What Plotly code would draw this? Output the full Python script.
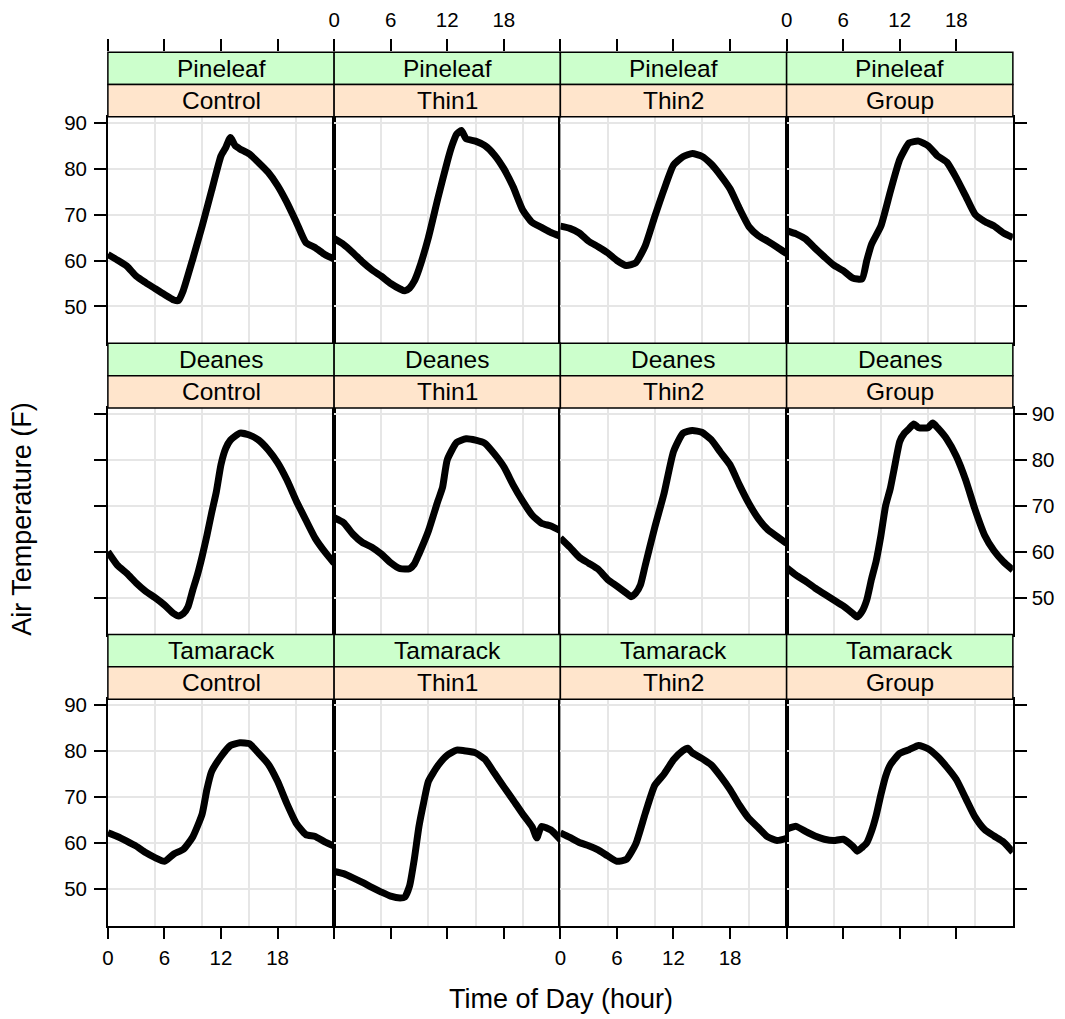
import plotly.graph_objects as go

# ---------------- data ----------------
SITES = ["Pineleaf", "Deanes", "Tamarack"]
TREATMENTS = ["Control", "Thin1", "Thin2", "Group"]
X_TICKS = [0, 6, 12, 18]
Y_TICKS = [50, 60, 70, 80, 90]
X_GRID = [5, 10, 15, 20]

PL_CONTROL_H = [0, 1, 2, 3, 4, 5, 6, 7, 7.5, 8, 9, 10, 11, 12, 12.5, 13, 13.5, 14, 15, 16, 17, 18, 19, 20, 21, 22, 23, 24]
PL_CONTROL_T = [61.3, 60.1, 58.8, 56.6, 55.2, 53.9, 52.6, 51.4, 51.3, 53.5, 60.3, 67.5, 75.2, 82.8, 84.6, 86.8, 85.0, 84.3, 83.2, 81.3, 79.2, 76.3, 72.6, 68.3, 63.9, 62.8, 61.3, 60.3]

PL_THIN1_H = [0, 1, 2, 3, 4, 5, 6, 7, 7.5, 8, 8.5, 9, 10, 11, 12, 12.5, 13, 13.5, 14, 15, 16, 17, 18, 19, 20, 21, 22, 23, 24]
PL_THIN1_T = [64.8, 63.5, 61.7, 59.7, 58.0, 56.6, 55.0, 53.8, 53.4, 54.0, 55.5, 58.1, 65.0, 73.5, 81.5, 85.0, 87.5, 88.3, 86.5, 86.0, 85.0, 83.0, 80.0, 76.0, 71.0, 68.3, 67.2, 66.1, 65.3]

PL_THIN2_H = [0, 1, 2, 3, 4, 5, 6, 7, 8, 9, 10, 11, 12, 13, 14, 15, 16, 17, 18, 19, 20, 21, 22, 23, 24]
PL_THIN2_T = [67.5, 67.0, 66.0, 64.2, 63.0, 61.7, 60.0, 58.9, 59.5, 63.2, 69.5, 75.5, 80.8, 82.6, 83.3, 82.7, 81.0, 78.5, 75.6, 71.3, 67.4, 65.4, 64.2, 62.9, 61.5]

PL_GROUP_H = [0, 1, 2, 3, 4, 5, 6, 7, 8, 8.5, 9, 10, 11, 12, 13, 14, 15, 16, 17, 18, 19, 20, 21, 22, 23, 24]
PL_GROUP_T = [66.5, 65.8, 64.7, 62.7, 60.8, 59.0, 57.8, 56.2, 56.0, 60.0, 63.5, 67.5, 75.0, 82.0, 85.6, 86.0, 85.0, 82.8, 81.4, 78.0, 74.0, 70.0, 68.5, 67.5, 66.0, 65.0]

DE_CONTROL_H = [0, 1, 2, 3, 4, 5, 6, 7, 7.5, 8, 8.5, 9, 9.5, 10, 10.5, 11, 11.5, 12, 12.5, 13, 14, 15, 16, 17, 18, 19, 20, 21, 22, 23, 24]
DE_CONTROL_T = [60.0, 57.1, 55.3, 53.2, 51.4, 50.0, 48.4, 46.5, 46.0, 46.5, 48.0, 51.6, 55.0, 59.0, 63.5, 68.4, 73.0, 79.0, 82.5, 84.3, 85.8, 85.4, 84.3, 82.2, 79.4, 75.6, 71.0, 66.9, 62.9, 60.0, 57.5]

DE_THIN1_H = [0, 1, 2, 3, 4, 5, 6, 7, 8, 8.5, 9, 10, 11, 11.5, 12, 13, 14, 15, 16, 17, 18, 19, 20, 21, 22, 23, 24]
DE_THIN1_T = [67.4, 66.3, 63.8, 62.0, 61.0, 59.5, 57.6, 56.3, 56.3, 57.3, 59.5, 64.5, 71.0, 74.0, 80.0, 83.8, 84.6, 84.3, 83.6, 81.3, 78.5, 74.5, 71.0, 68.0, 66.2, 65.6, 64.6]

DE_THIN2_H = [0, 1, 2, 3, 4, 5, 6, 7, 7.5, 8, 8.5, 9, 10, 11, 12, 13, 14, 15, 16, 17, 18, 19, 20, 21, 22, 23, 24]
DE_THIN2_T = [63.0, 61.0, 58.8, 57.5, 56.2, 54.0, 52.5, 51.0, 50.2, 51.0, 52.8, 57.0, 65.2, 72.7, 81.8, 85.8, 86.4, 86.0, 84.4, 81.6, 78.9, 74.5, 70.5, 67.2, 64.8, 63.3, 61.8]

DE_GROUP_H = [0, 1, 2, 3, 4, 5, 6, 7, 7.5, 8, 8.5, 9, 9.5, 10, 10.5, 11, 11.5, 12, 12.5, 13, 13.5, 14, 15, 15.5, 16, 17, 18, 19, 20, 21, 22, 23, 24]
DE_GROUP_T = [56.5, 54.9, 53.6, 52.1, 50.8, 49.5, 48.2, 46.6, 45.8, 47.0, 49.5, 54.0, 58.0, 63.5, 70.0, 73.8, 79.0, 84.0, 85.8, 86.8, 87.8, 87.0, 87.0, 88.0, 87.0, 84.5, 80.8, 75.6, 69.1, 63.6, 60.2, 57.8, 56.0]

TA_CONTROL_H = [0, 1, 2, 3, 4, 5, 6, 7, 8, 9, 10, 10.5, 11, 12, 13, 14, 15, 16, 17, 18, 19, 20, 21, 22, 23, 24]
TA_CONTROL_T = [62.2, 61.4, 60.4, 59.3, 57.9, 56.8, 56.0, 57.6, 58.6, 61.3, 66.3, 71.6, 75.5, 78.8, 81.2, 81.8, 81.6, 79.5, 77.2, 73.4, 68.5, 64.2, 61.8, 61.4, 60.2, 59.3]

TA_THIN1_H = [0, 1, 2, 3, 4, 5, 6, 7, 7.5, 8, 8.5, 9, 9.5, 10, 11, 12, 13, 14, 15, 16, 17, 18, 19, 20, 21, 21.5, 22, 23, 24]
TA_THIN1_T = [53.8, 53.3, 52.4, 51.4, 50.3, 49.3, 48.4, 48.0, 48.2, 50.6, 56.4, 63.6, 68.8, 73.4, 76.8, 79.1, 80.2, 80.0, 79.6, 78.2, 75.2, 72.2, 69.3, 66.3, 63.5, 61.1, 63.6, 62.8, 60.7]

TA_THIN2_H = [0, 1, 2, 3, 4, 5, 6, 7, 8, 9, 10, 11, 12, 13, 13.5, 14, 15, 16, 17, 18, 19, 20, 21, 22, 23, 24]
TA_THIN2_T = [62.2, 61.2, 60.1, 59.4, 58.5, 57.2, 56.0, 56.4, 59.8, 66.4, 72.5, 75.0, 78.1, 80.1, 80.6, 79.6, 78.4, 77.0, 74.5, 71.6, 68.2, 65.3, 63.3, 61.3, 60.5, 61.0]

TA_GROUP_H = [0, 1, 2, 3, 4, 5, 6, 7, 7.5, 8, 8.5, 9, 9.5, 10, 10.5, 11, 12, 13, 14, 15, 16, 17, 18, 19, 20, 21, 22, 23, 24]
TA_GROUP_T = [63.0, 63.6, 62.5, 61.5, 60.8, 60.5, 60.8, 59.3, 58.2, 59.0, 60.0, 62.5, 66.0, 70.5, 74.5, 77.0, 79.5, 80.3, 81.2, 80.5, 78.8, 76.5, 73.8, 69.7, 65.6, 62.9, 61.5, 60.2, 58.0]

PANELS = [
    [(PL_CONTROL_H, PL_CONTROL_T), (PL_THIN1_H, PL_THIN1_T), (PL_THIN2_H, PL_THIN2_T), (PL_GROUP_H, PL_GROUP_T)],
    [(DE_CONTROL_H, DE_CONTROL_T), (DE_THIN1_H, DE_THIN1_T), (DE_THIN2_H, DE_THIN2_T), (DE_GROUP_H, DE_GROUP_T)],
    [(TA_CONTROL_H, TA_CONTROL_T), (TA_THIN1_H, TA_THIN1_T), (TA_THIN2_H, TA_THIN2_T), (TA_GROUP_H, TA_GROUP_T)],
]
for row in PANELS:
    for h, t in row:
        assert len(h) == len(t), (len(h), len(t))

# ---------------- layout geometry (target screen pixels) ----------------
W, H = 1065, 1019
# observed mapping of the page: screen = OFF + SCALE * figure
OFF_X, OFF_Y = 14.5, 14.5
SCALE_X, SCALE_Y = 0.9935, 0.9945
COL_LEFT0, COL_W = 108.3, 226.05
ROW_TOP0, ROW_PITCH, PANEL_H, STRIP_H = 117.3, 291.3, 227.0, 32.3
X_RANGE = [0, 24]
Y_RANGE = [41.9, 91.3]
FONT = "Liberation Sans, Arial, Helvetica, sans-serif"
GRID_COL = "#E6E6E6"
GREEN, PEACH = "#CCFFCC", "#FFE5CC"
TICK_FONT = dict(family=FONT, size=20.5, color="black")


def px(x):
    return ((x - OFF_X) / SCALE_X) / W


def py(y):
    return 1 - ((y - OFF_Y) / SCALE_Y) / H


fig = go.Figure()
layout = {}
shapes = []
annotations = []

for r in range(3):
    top = ROW_TOP0 + r * ROW_PITCH
    for c in range(4):
        idx = r * 4 + c + 1
        sfx = "" if idx == 1 else str(idx)
        left = COL_LEFT0 + c * COL_W
        hrs, tmp = PANELS[r][c]
        fig.add_trace(go.Scatter(
            x=hrs, y=tmp, mode="lines",
            line=dict(color="black", width=7, shape="spline", smoothing=0.5),
            xaxis="x" + sfx, yaxis="y" + sfx, showlegend=False, hoverinfo="skip"))
        layout["xaxis" + sfx] = dict(
            domain=[px(left), px(left + COL_W)], range=X_RANGE, anchor="y" + sfx,
            showline=True, mirror=True, linecolor="black", linewidth=1.5,
            tickmode="array", tickvals=X_TICKS,
            ticks="outside" if r == 2 else "", ticklen=11, tickwidth=1.5, tickcolor="black",
            showticklabels=(r == 2 and c in (0, 2)), tickfont=TICK_FONT, ticklabelstandoff=2,
            showgrid=False, zeroline=False,
            minor=dict(tickmode="array", tickvals=X_GRID, showgrid=True,
                       gridcolor=GRID_COL, gridwidth=1.5, ticks=""))
        layout["yaxis" + sfx] = dict(
            domain=[py(top + PANEL_H), py(top)], range=Y_RANGE, anchor="x" + sfx,
            side="left" if c < 3 else "right",
            showline=True, mirror=True, linecolor="black", linewidth=1.5,
            tickmode="array", tickvals=Y_TICKS,
            ticks="outside" if c in (0, 3) else "", ticklen=12, tickwidth=1.5, tickcolor="black",
            showticklabels=(c == 0 and r in (0, 2)) or (c == 3 and r == 1), tickfont=TICK_FONT,
            ticklabelstandoff=(1 if c == 3 else 3),
            showgrid=True, gridcolor=GRID_COL, gridwidth=1.5, zeroline=False)

        # strips
        s_top = top - 2 * STRIP_H
        shapes.append(dict(type="rect", xref="paper", yref="paper", layer="above",
                           x0=px(left), x1=px(left + COL_W), y0=py(s_top + STRIP_H), y1=py(s_top),
                           fillcolor=GREEN, line=dict(color="black", width=1.5)))
        shapes.append(dict(type="rect", xref="paper", yref="paper", layer="above",
                           x0=px(left), x1=px(left + COL_W), y0=py(top), y1=py(s_top + STRIP_H),
                           fillcolor=PEACH, line=dict(color="black", width=1.5)))
        annotations.append(dict(x=px(left + COL_W / 2), y=py(s_top + STRIP_H / 2), xref="paper", yref="paper",
                                text=SITES[r], showarrow=False, xanchor="center", yanchor="middle",
                                font=dict(family=FONT, size=24.5, color="black")))
        annotations.append(dict(x=px(left + COL_W / 2), y=py(s_top + 1.5 * STRIP_H), xref="paper", yref="paper",
                                text=TREATMENTS[c], showarrow=False, xanchor="center", yanchor="middle",
                                font=dict(family=FONT, size=24.5, color="black")))

# top tick axes above the first row of strips
strip_y0 = py(ROW_TOP0)
strip_y1 = py(ROW_TOP0 - 2 * STRIP_H)
layout["yaxis13"] = dict(domain=[strip_y0, strip_y1], range=[0, 1], anchor="x13", visible=False)
for c in range(4):
    idx = 13 + c
    left = COL_LEFT0 + c * COL_W
    fig.add_trace(go.Scatter(x=[], y=[], xaxis="x%d" % idx, yaxis="y13",
                             showlegend=False, hoverinfo="skip"))
    layout["xaxis%d" % idx] = dict(
        domain=[px(left), px(left + COL_W)], range=X_RANGE, anchor="y13", side="top",
        showline=False, showgrid=False, zeroline=False,
        tickmode="array", tickvals=X_TICKS, ticks="outside", ticklen=12, tickwidth=1.5,
        tickcolor="black", showticklabels=(c in (1, 3)), tickfont=TICK_FONT, ticklabelstandoff=4)

annotations.append(dict(x=px(561), y=py(1000), xref="paper", yref="paper", text="Time of Day (hour)",
                        showarrow=False, xanchor="center", yanchor="middle",
                        font=dict(family=FONT, size=27, color="black")))
annotations.append(dict(x=px(23), y=py(520), xref="paper", yref="paper", text="Air Temperature (F)",
                        showarrow=False, xanchor="center", yanchor="middle", textangle=-90,
                        font=dict(family=FONT, size=27, color="black")))

fig.update_layout(
    width=W, height=H, autosize=False,
    margin=dict(l=0, r=0, t=0, b=0),
    paper_bgcolor="white", plot_bgcolor="white",
    shapes=shapes, annotations=annotations, showlegend=False,
    **layout)

fig.write_html("out.html")
